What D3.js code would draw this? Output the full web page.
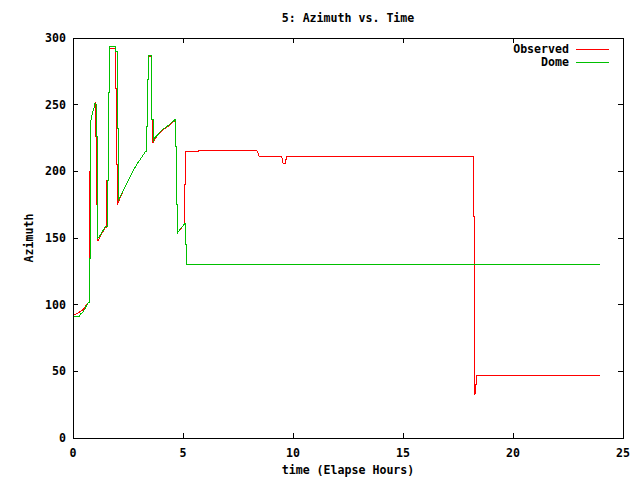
<!DOCTYPE html>
<html><head><meta charset="utf-8">
<script src="https://cdn.jsdelivr.net/npm/d3@7"></script>
<style>
body{margin:0;background:#fff;}
text{font-family:"DejaVu Sans Mono","Liberation Mono",monospace;font-weight:bold;font-size:11.6px;fill:#000;}
</style></head><body>
<svg id="c" width="640" height="480"></svg>
<script>
const title = "5: Azimuth vs. Time";
const xLabel = "time (Elapse Hours)";
const yLabel = "Azimuth";
const xTicks = [0,5,10,15,20,25];
const yTicks = [0,50,100,150,200,250,300];
const seriesNames = ["Observed","Dome"];
const seriesColors = ["#ff0000","#00c000"];

const obsTime = [0,0.1,0.2,0.3,0.4,0.5,0.6,0.7,0.76,0.76,0.79,0.79,0.84,0.88,0.93,0.98,1.01,1.04,1.04,1.08,1.08,1.1,1.1,1.15,1.2,1.3,1.4,1.48,1.54,1.54,1.6,1.6,1.65,1.65,1.94,1.94,1.97,1.97,2.01,2.01,2.3,2.59,2.89,3.1,3.3,3.35,3.35,3.4,3.4,3.44,3.44,3.56,3.56,3.63,3.63,3.7,3.8,4.04,4.26,4.41,4.67,4.67,4.71,4.71,4.74,4.74,4.8,4.9,5.0,5.07,5.07,5.13,5.13,5.7,5.7,8.35,8.47,9.49,9.55,9.64,9.72,18.2,18.2,18.23,18.23,18.27,18.27,18.3,18.33,18.36,18.36,23.95];
const obsAz   = [92,92.5,93.5,94.5,95.5,97,99.5,101.5,101.5,200,200,236,240,244,246.5,249,252,252,226,226,175,175,148,148,150,153,156,158,158,193,193,259,259,292.5,292.5,262.5,262.5,205,205,175,186,196,205,210,215,216,233.5,233.5,269,269,286,286,239,239,221,223.5,226,230.5,233,235,238.5,218.5,218.5,175.5,175.5,154,155,157,159,161,190,190,215,215,216,216,211,211,206,206,211.5,211.5,166.5,166.5,77,77,32,40,40,43,47.25,47.25];

const domeTime = [0,0.3,0.35,0.45,0.55,0.6,0.7,0.74,0.74,0.79,0.79,0.84,0.88,0.93,0.98,1.0,1.03,1.08,1.08,1.1,1.1,1.12,1.2,1.3,1.4,1.47,1.56,1.56,1.61,1.61,1.65,1.65,1.93,1.93,2.0,2.0,2.06,2.06,2.3,2.59,2.89,3.1,3.3,3.35,3.35,3.4,3.4,3.44,3.44,3.53,3.58,3.58,3.64,3.64,3.7,3.8,4.04,4.26,4.41,4.65,4.68,4.68,4.71,4.71,4.74,4.74,4.86,5.0,5.08,5.1,5.1,5.14,5.14,23.95];
const domeAz   = [91.5,91.5,93,94.5,97,99,101.5,101.5,135,135,236,240,244,246.5,248.5,251,251,248.5,226,226,152,150,151,154,156.5,158.5,158.5,193.5,193.5,259.5,259.5,293.5,293.5,290,290,232.5,232.5,178,186,196,205,210,215,215,233.5,233.5,269,269,287,287,287,239,239,222,224.8,226.5,231,233.5,235.5,239,239,218.5,218.5,175.5,175.5,153.5,156.5,159,161,161,145.5,145.5,130.5,130.5];

const svg = d3.select("#c");
const L=73, R=623, T=38, B=438;
const x = d3.scaleLinear().domain([0,25]).range([L,R]);
const y = d3.scaleLinear().domain([0,300]).range([B,T]);
const tick = 5;

const g = svg.append("g").attr("shape-rendering","crispEdges");
xTicks.forEach(v=>{
  g.append("line").attr("x1",x(v)).attr("x2",x(v)).attr("y1",B).attr("y2",B-tick).attr("stroke","#000");
  g.append("line").attr("x1",x(v)).attr("x2",x(v)).attr("y1",T).attr("y2",T+tick).attr("stroke","#000");
  svg.append("text").attr("x",x(v)).attr("y",457).attr("text-anchor","middle").text(v);
});
yTicks.forEach(v=>{
  g.append("line").attr("x1",L).attr("x2",L+tick).attr("y1",y(v)).attr("y2",y(v)).attr("stroke","#000");
  g.append("line").attr("x1",R).attr("x2",R-tick).attr("y1",y(v)).attr("y2",y(v)).attr("stroke","#000");
  svg.append("text").attr("x",66).attr("y",y(v)+4).attr("text-anchor","end").text(v);
});

const line = d3.line().x(d=>x(d[0])).y(d=>y(d[1]));
const obs = obsTime.map((t,i)=>[t,obsAz[i]]);
const dome = domeTime.map((t,i)=>[t,domeAz[i]]);
g.append("path").datum(obs).attr("d",line).attr("fill","none").attr("stroke",seriesColors[0]).attr("stroke-width",1);
g.append("path").datum(dome).attr("d",line).attr("fill","none").attr("stroke",seriesColors[1]).attr("stroke-width",1);

g.append("rect").attr("x",L).attr("y",T).attr("width",R-L).attr("height",B-T).attr("fill","none").attr("stroke","#000");

seriesNames.forEach((n,i)=>{
  const ly = 49 + i*13;
  svg.append("text").attr("x",569).attr("y",ly+4).attr("text-anchor","end").text(n);
  g.append("line").attr("x1",576).attr("x2",609).attr("y1",ly).attr("y2",ly).attr("stroke",seriesColors[i]);
});

svg.append("text").attr("x",(L+R)/2).attr("y",22).attr("text-anchor","middle").text(title);
svg.append("text").attr("x",(L+R)/2).attr("y",474).attr("text-anchor","middle").text(xLabel);
svg.append("text").attr("transform","translate(33,238) rotate(-90)").attr("text-anchor","middle").text(yLabel);
</script>
</body></html>
